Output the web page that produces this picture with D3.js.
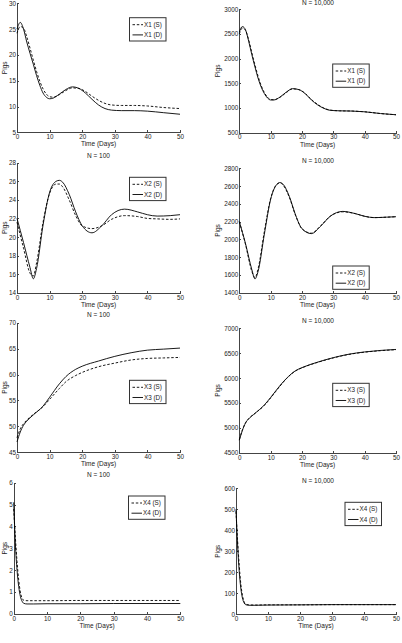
<!DOCTYPE html>
<html>
<head>
<meta charset="utf-8">
<script src="https://cdn.jsdelivr.net/npm/d3@7"></script>
<style>
  body { margin: 0; background: #fff; }
  svg { display: block; font-family: "Liberation Sans", Arial, sans-serif; }
  .axis path, .axis line { stroke: #444; shape-rendering: crispEdges; }
  .axis text { font-size: 6.3px; fill: #222; }
  .label { font-size: 6.5px; fill: #222; }
  .legend text { font-size: 6.3px; fill: #222; }
</style>
</head>
<body>
<div id="chart"></div>
<script>
// time points (days) used for each state variable
var daysX1 = [0, 1, 2, 3, 4, 5, 6, 7, 8, 9, 10, 11, 13, 15, 17, 19, 21, 23, 25, 27, 29, 32, 36, 40, 45, 50];
var daysX2 = [0, 2, 4, 5, 6, 8, 10, 12, 13, 14, 16, 18, 20, 23, 26, 29, 33, 37, 40, 43, 47, 50];
var daysX3 = [0, 1, 2, 3, 5, 8, 10, 13, 15, 18, 20, 25, 30, 35, 40, 45, 50];
var daysX4 = [0, 0.5, 1, 1.5, 2, 2.5, 3, 4, 6, 10, 20, 30, 40, 50];

// X1
var x1S100 = [24.2, 25.5, 25.2, 23.5, 21.3, 19.0, 16.8, 14.9, 13.4, 12.4, 11.9, 11.8, 12.3, 13.1, 13.6, 13.5, 12.9, 12.0, 11.2, 10.6, 10.3, 10.2, 10.2, 10.1, 9.8, 9.6];
var x1D100 = [25.0, 26.3, 25.0, 22.5, 20.3, 18.2, 16.0, 14.1, 12.6, 11.8, 11.5, 11.6, 12.4, 13.3, 13.8, 13.5, 12.6, 11.4, 10.3, 9.6, 9.3, 9.2, 9.2, 9.1, 8.8, 8.5];
var x1S10k = [2500, 2620, 2570, 2380, 2120, 1870, 1640, 1450, 1310, 1215, 1170, 1165, 1215, 1310, 1385, 1370, 1295, 1170, 1070, 995, 955, 940, 935, 920, 885, 860];
var x1D10k = [2540, 2650, 2580, 2350, 2080, 1830, 1600, 1420, 1290, 1200, 1160, 1160, 1220, 1320, 1390, 1370, 1290, 1160, 1060, 990, 950, 940, 935, 920, 885, 860];

// X2
var x2S100 = [21.6, 18.8, 16.1, 15.8, 17.2, 21.6, 24.7, 25.7, 25.7, 25.4, 24.0, 22.3, 21.2, 20.9, 21.2, 21.9, 22.3, 22.2, 22.0, 21.95, 21.9, 21.95];
var x2D100 = [22.0, 19.4, 16.7, 15.5, 16.6, 21.3, 24.8, 26.0, 26.1, 25.9, 24.6, 22.7, 21.2, 20.45, 21.2, 22.4, 23.0, 22.7, 22.4, 22.25, 22.3, 22.4];
var x2S10k = [2200, 1940, 1640, 1570, 1670, 2090, 2460, 2620, 2635, 2610, 2470, 2265, 2120, 2070, 2155, 2260, 2310, 2290, 2260, 2245, 2250, 2255];
var x2D10k = [2200, 1950, 1660, 1555, 1640, 2060, 2450, 2620, 2640, 2620, 2480, 2270, 2120, 2065, 2150, 2260, 2315, 2290, 2260, 2245, 2250, 2255];

// X3
var x3S100 = [47.8, 49.5, 50.5, 51.2, 52.3, 53.8, 55.2, 57.3, 58.6, 59.8, 60.4, 61.5, 62.2, 62.8, 63.1, 63.2, 63.3];
var x3D100 = [47.0, 48.9, 50.2, 51.0, 52.2, 53.9, 55.6, 58.2, 59.6, 61.0, 61.6, 62.6, 63.5, 64.2, 64.7, 64.9, 65.1];
var x3S10k = [4760, 4960, 5100, 5185, 5290, 5450, 5600, 5840, 5985, 6145, 6205, 6315, 6405, 6475, 6520, 6550, 6570];
var x3D10k = [4750, 4950, 5100, 5180, 5290, 5460, 5610, 5850, 5990, 6150, 6210, 6320, 6410, 6480, 6525, 6555, 6575];

// X4
var x4S100 = [4.8, 3.5, 2.4, 1.55, 1.0, 0.72, 0.62, 0.6, 0.6, 0.6, 0.61, 0.61, 0.61, 0.61];
var x4D100 = [5.1, 3.2, 2.0, 1.25, 0.8, 0.58, 0.48, 0.45, 0.45, 0.46, 0.46, 0.47, 0.47, 0.47];
var x4S10k = [490, 350, 235, 145, 92, 62, 49, 45, 44, 45, 45, 46, 46, 46];
var x4D10k = [500, 330, 205, 125, 78, 55, 46, 43, 43, 44, 45, 46, 46, 46];

// axis ranges and tick labels
var xTicks = [0, 10, 20, 30, 40, 50];
var yTicks1 = [5, 10, 15, 20, 25, 30];
var yTicks2 = [500, 1000, 1500, 2000, 2500, 3000];
var yTicks3 = [14, 16, 18, 20, 22, 24, 26, 28];
var yTicks4 = [1400, 1600, 1800, 2000, 2200, 2400, 2600, 2800];
var yTicks5 = [45, 50, 55, 60, 65, 70];
var yTicks6 = [4500, 5000, 5500, 6000, 6500, 7000];
var yTicks7 = [0, 1, 2, 3, 4, 5, 6];
var yTicks8 = [0, 100, 200, 300, 400, 500, 600];

var W = 402, H = 643;

var svg = d3.select("#chart")
            .append("svg")
              .attr("width", W)
              .attr("height", H);

// one entry per sub-plot (layout only; values come from the arrays above)
// the top-left title is cropped away in the original figure, so it has none
var panels = [
  {name: "X1", title: null,         days: daysX1, s: x1S100, d: x1D100, yt: yTicks1, l: 17,    r: 180,   t: 3.3,   b: 132.3, lx: 129.5, ly: 17.7,  ty: 0},
  {name: "X1", title: "N = 10,000", days: daysX1, s: x1S10k, d: x1D10k, yt: yTicks2, l: 239.3, r: 396,   t: 9.3,   b: 132.5, lx: 332.7, ly: 64,    ty: 2.8},
  {name: "X2", title: "N = 100",    days: daysX2, s: x2S100, d: x2D100, yt: yTicks3, l: 17,    r: 180,   t: 162.7, b: 292.7, lx: 129.5, ly: 177.3, ty: 155.5},
  {name: "X2", title: "N = 10,000", days: daysX2, s: x2S10k, d: x2D10k, yt: yTicks4, l: 239.3, r: 396,   t: 168.3, b: 292.7, lx: 332.7, ly: 266,   ty: 161},
  {name: "X3", title: "N = 100",    days: daysX3, s: x3S100, d: x3D100, yt: yTicks5, l: 17,    r: 180,   t: 322.7, b: 452.2, lx: 129.5, ly: 380.3, ty: 315},
  {name: "X3", title: "N = 10,000", days: daysX3, s: x3S10k, d: x3D10k, yt: yTicks6, l: 239.3, r: 396,   t: 328.3, b: 452.7, lx: 332.7, ly: 383.3, ty: 320.7},
  {name: "X4", title: "N = 100",    days: daysX4, s: x4S100, d: x4D100, yt: yTicks7, l: 13.7,  r: 180.3, t: 482.7, b: 613.8, lx: 128.5, ly: 496,   ty: 475},
  {name: "X4", title: "N = 10,000", days: daysX4, s: x4S10k, d: x4D10k, yt: yTicks8, l: 236,   r: 396,   t: 488.3, b: 614.3, lx: 345,   ly: 502.3, ty: 480.7}
];

var fmt = d3.format("d");

panels.forEach(function(p) {
  var xScale = d3.scaleLinear().domain([0, 50]).range([p.l, p.r]);
  var yScale = d3.scaleLinear().domain([p.yt[0], p.yt[p.yt.length - 1]]).range([p.b, p.t]);

  var g = svg.append("g").attr("class", "panel");

  // axes (left + bottom only, ticks pointing inward)
  g.append("g")
    .attr("class", "axis x-axis")
    .attr("transform", "translate(0," + p.b + ")")
    .call(d3.axisBottom(xScale).tickValues(xTicks).tickFormat(fmt).tickSizeInner(-2).tickSizeOuter(0).tickPadding(2.5));

  g.append("g")
    .attr("class", "axis y-axis")
    .attr("transform", "translate(" + p.l + ",0)")
    .call(d3.axisLeft(yScale).tickValues(p.yt).tickFormat(fmt).tickSizeInner(-2).tickSizeOuter(0).tickPadding(1));

  // labels
  g.append("text")
    .attr("class", "label")
    .attr("x", (p.l + p.r) / 2)
    .attr("y", p.b + 14)
    .attr("text-anchor", "middle")
    .text("Time (Days)");

  g.append("text")
    .attr("class", "label")
    .attr("transform", "translate(" + (p.l < 100 ? 6.8 : 220.3) + "," + ((p.t + p.b) / 2) + ") rotate(-90)")
    .attr("text-anchor", "middle")
    .text("Pigs");

  if (p.title) {
    g.append("text")
      .attr("class", "label")
      .attr("x", p.l < 100 ? 98.5 : 318)
      .attr("y", p.ty + 2.3)
      .attr("text-anchor", "middle")
      .text(p.title);
  }

  // lines
  var line = d3.line()
               .x(function(d) { return xScale(d[0]); })
               .y(function(d) { return yScale(d[1]); })
               .curve(d3.curveMonotoneX);

  g.append("path")
    .datum(d3.zip(p.days, p.s))
    .attr("fill", "none")
    .attr("stroke", "#000")
    .attr("stroke-width", 0.9)
    .attr("stroke-dasharray", "2.5,1.8")
    .attr("d", line);

  g.append("path")
    .datum(d3.zip(p.days, p.d))
    .attr("fill", "none")
    .attr("stroke", "#000")
    .attr("stroke-width", 0.9)
    .attr("d", line);

  // legend
  var legend = g.append("g")
                  .attr("class", "legend")
                  .attr("transform", "translate(" + p.lx + "," + p.ly + ")");

  legend.append("rect")
    .attr("width", 36.5)
    .attr("height", 23.3)
    .attr("fill", "#fff")
    .attr("stroke", "#333")
    .attr("stroke-width", 1);

  var entries = [{key: "S", dash: "2.5,1.8"}, {key: "D", dash: null}];
  entries.forEach(function(e, i) {
    var y = 7 + i * 10.2;
    legend.append("line")
      .attr("x1", 3).attr("x2", 13.5)
      .attr("y1", y).attr("y2", y)
      .attr("stroke", "#000")
      .attr("stroke-width", 0.9)
      .attr("stroke-dasharray", e.dash);
    legend.append("text")
      .attr("x", 14.5)
      .attr("y", y + 2.2)
      .text(p.name + " (" + e.key + ")");
  });
});
</script>
</body>
</html>
